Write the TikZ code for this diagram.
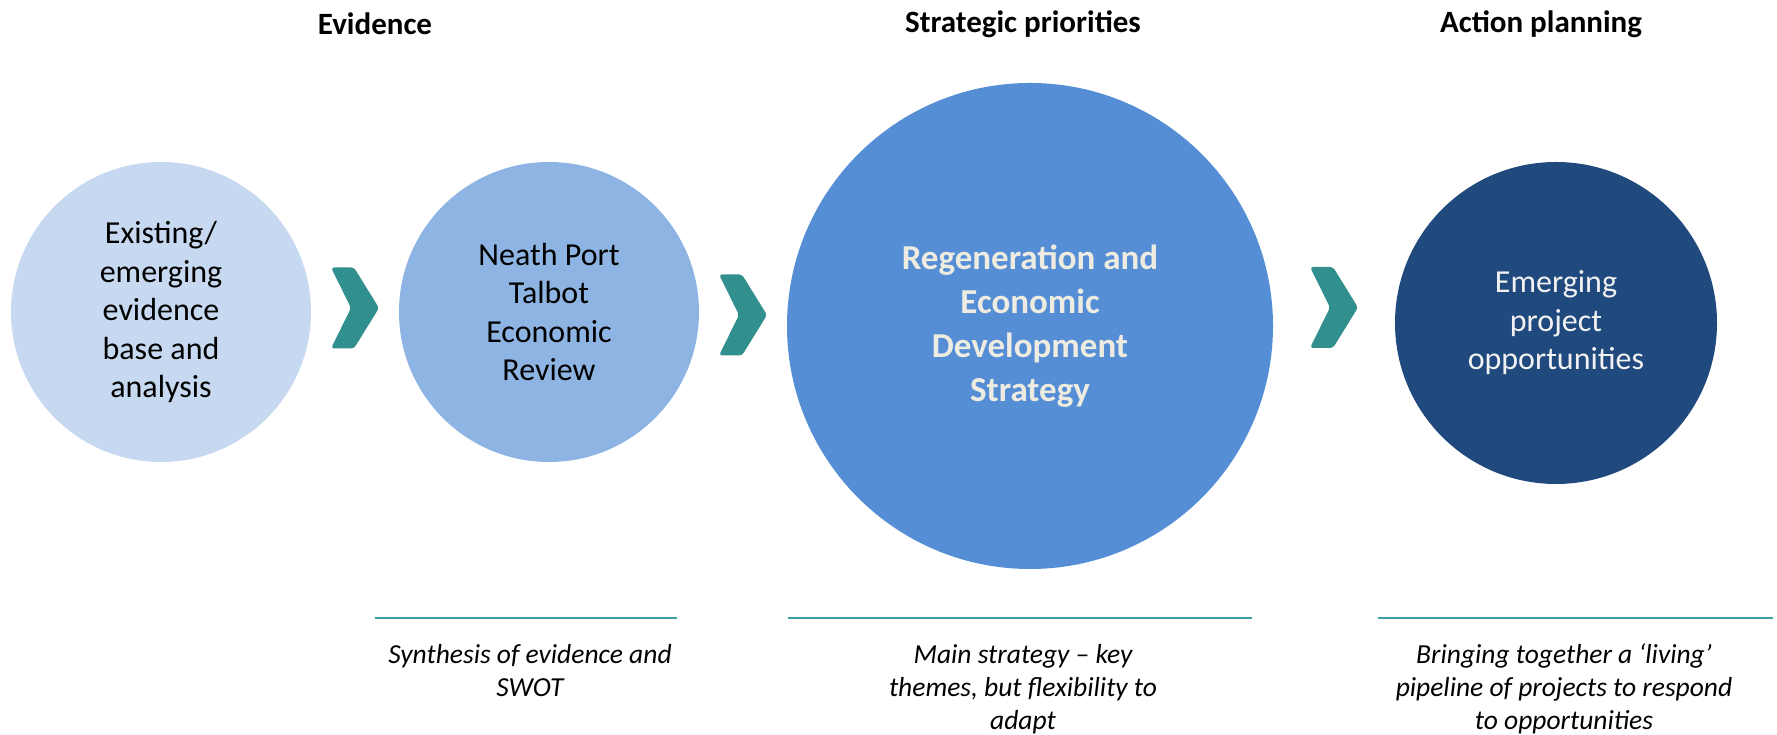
\documentclass[tikz,border=0pt]{standalone}
\usepackage{fontspec}
\setmainfont{Carlito}
\usetikzlibrary{positioning, calc}
\definecolor{paleblue}{RGB}{198,217,240}
\definecolor{midblue}{RGB}{142,180,227}
\definecolor{mainblue}{RGB}{85,142,213}
\definecolor{darkblue}{RGB}{32,73,125}
\definecolor{chevteal}{RGB}{49,144,142}
\definecolor{lineteal}{RGB}{62,160,166}
\definecolor{cream}{RGB}{238,236,225}
\tikzstyle{stage} = [circle, inner sep=0pt, align=center, font=\fontsize{32}{38.5}\selectfont]
\tikzstyle{heading} = [inner sep=0pt, font=\bfseries\fontsize{31}{37}\selectfont]
\tikzstyle{caption} = [inner sep=0pt, align=center, anchor=north, font=\itshape\fontsize{27.5}{33}\selectfont]
\tikzstyle{rule} = [lineteal, line width=2pt]
\newcommand{\chevron}[1]{\fill[chevteal, rounded corners=3pt] ($(#1)+(-24,-40.5)$) -- ++(23,0) -- ++(25,40.5) -- ++(-25,40.5) -- ++(-23,0) -- ++(20,-40.5) -- cycle;}

\begin{document}
\begin{tikzpicture}[x=1pt,y=1pt]
\useasboundingbox (0,0) rectangle (1777,735);

% stages
\node (evid) [stage, fill=paleblue, minimum size=300pt] at (161,423) {Existing/\\emerging\\evidence\\base and\\analysis};
\node (review) [stage, fill=midblue, minimum size=300pt] at (549,423) {Neath Port\\Talbot\\Economic\\Review};
\node (strat) [stage, fill=mainblue, minimum size=486pt, text=cream, font=\bfseries\fontsize{35}{44}\selectfont] at (1030,409) {Regeneration and\\Economic\\Development\\Strategy};
\node (proj) [stage, fill=darkblue, minimum size=322pt, text=white!95!black] at (1556,412) {Emerging\\project\\opportunities};

% chevrons between stages
\coordinate (ch1) at ($(evid.east)!0.5!(review.west)+(0,4)$);
\coordinate (ch2) at ($(review.east)!0.5!(strat.west)+(0,4)$);
\coordinate (ch3) at ($(strat.east)!0.5!(proj.west)+(0,17)$);
\chevron{ch1}
\chevron{ch2}
\chevron{ch3}

% headings
\node (hevid) [heading] at (375,711) {Evidence};
\node (hstrat) [heading] at (1023,711) {Strategic priorities};
\node (hact) [heading] at (1541,711) {Action planning};

% rules and captions
\coordinate (r1a) at (375,117);
\coordinate (r1b) at (677,117);
\coordinate (r2a) at (788,117);
\coordinate (r2b) at (1252,117);
\coordinate (r3a) at (1378,117);
\coordinate (r3b) at (1773,117);
\draw [rule] (r1a) -- (r1b);
\draw [rule] (r2a) -- (r2b);
\draw [rule] (r3a) -- (r3b);

\node (cap1) [caption] at (530,91) {Synthesis of evidence and\\SWOT};
\node (cap2) [caption] at (1023,91) {Main strategy -- key\\themes, but flexibility to\\adapt};
\node (cap3) [caption] at (1564,91) {Bringing together a ‘living’\\pipeline of projects to respond\\to opportunities};

\end{tikzpicture}
\end{document}
